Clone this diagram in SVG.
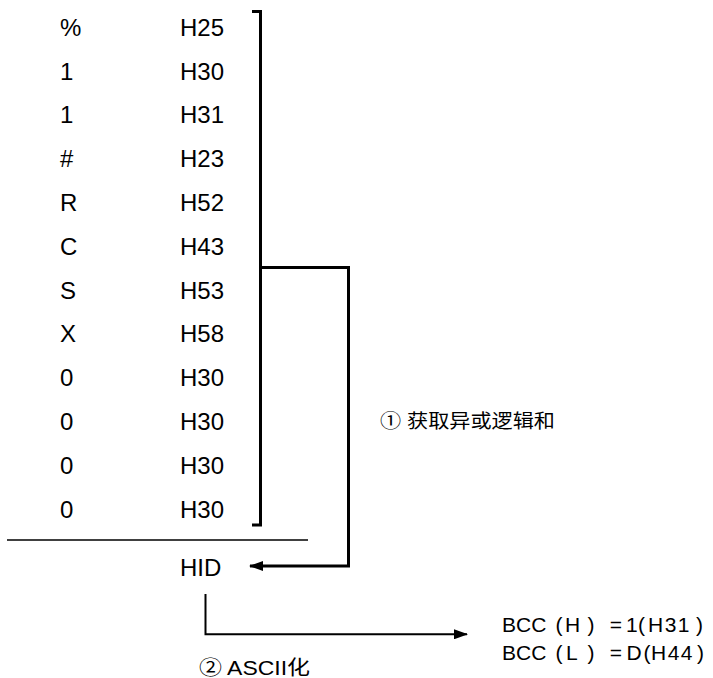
<svg xmlns="http://www.w3.org/2000/svg" width="713" height="678" viewBox="0 0 713 678">
<style>
.t{font-family:"Liberation Sans","Noto Sans CJK SC",sans-serif;font-size:24px;fill:#000}
.s{font-family:"Liberation Sans","Noto Sans CJK SC",sans-serif;font-size:20px;fill:#000}
.b{font-family:"Liberation Sans","Noto Sans CJK SC",sans-serif;font-size:21px;fill:#000}
.c{font-family:"Liberation Sans","Noto Sans CJK SC",sans-serif;font-size:19px;fill:#000}
.ls{letter-spacing:1.5px}
.ln{fill:none;stroke:#000;stroke-width:3}
.thin{fill:none;stroke:#000;stroke-width:2}
</style>
<defs>
<marker id="ah" markerWidth="14" markerHeight="10" refX="13" refY="5" orient="auto" markerUnits="userSpaceOnUse">
<path d="M0,0 L14,5 L0,10 Z" fill="#000"/>
</marker>
</defs>
<g id="table">
<text class="t" x="60" y="35.7">%</text><text class="t" x="180" y="35.7">H25</text>
<text class="t" x="60" y="79.5">1</text><text class="t" x="180" y="79.5">H30</text>
<text class="t" x="60" y="123.3">1</text><text class="t" x="180" y="123.3">H31</text>
<text class="t" x="60" y="167.1">#</text><text class="t" x="180" y="167.1">H23</text>
<text class="t" x="60" y="210.9">R</text><text class="t" x="180" y="210.9">H52</text>
<text class="t" x="60" y="254.7">C</text><text class="t" x="180" y="254.7">H43</text>
<text class="t" x="60" y="298.5">S</text><text class="t" x="180" y="298.5">H53</text>
<text class="t" x="60" y="342.3">X</text><text class="t" x="180" y="342.3">H58</text>
<text class="t" x="60" y="386.1">0</text><text class="t" x="180" y="386.1">H30</text>
<text class="t" x="60" y="429.9">0</text><text class="t" x="180" y="429.9">H30</text>
<text class="t" x="60" y="473.7">0</text><text class="t" x="180" y="473.7">H30</text>
<text class="t" x="60" y="517.5">0</text><text class="t" x="180" y="517.5">H30</text>
<line x1="7" y1="540" x2="308" y2="540" stroke="#000" stroke-width="1.6"/>
</g>
<g id="hid">
<text class="t" x="180" y="576">HID</text>
</g>
<g id="label1">
<text class="c" x="380" y="428" textLength="175" lengthAdjust="spacingAndGlyphs">① 获取异或逻辑和</text>
</g>
<g id="label2">
<text class="s" x="199" y="675" textLength="111" lengthAdjust="spacingAndGlyphs">② ASCII化</text>
</g>
<g id="result">
<text class="b" y="631.7"><tspan x="502">BCC </tspan><tspan x="555.5">(</tspan><tspan x="565">H</tspan><tspan x="587.5">)</tspan><tspan x="609.7">=</tspan><tspan x="626">1</tspan><tspan x="638">(</tspan><tspan x="648" class="ls">H31</tspan><tspan x="696">)</tspan></text>
<text class="b" y="659.5"><tspan x="502">BCC </tspan><tspan x="555.5">(</tspan><tspan x="566">L</tspan><tspan x="587.5">)</tspan><tspan x="609.7">=</tspan><tspan x="626.6">D</tspan><tspan x="643.5">(</tspan><tspan x="651" class="ls">H44</tspan><tspan x="697">)</tspan></text>
</g>
<g id="connectors">
<path class="ln" d="M252,11.5 H260.5 V525 H252"/>
<path class="ln" d="M260.5,267.5 H348.5 V566 H250" marker-end="url(#ah)"/>
<path class="thin" d="M205.5,594 V634.3 H467" marker-end="url(#ah)"/>
</g>
</svg>
